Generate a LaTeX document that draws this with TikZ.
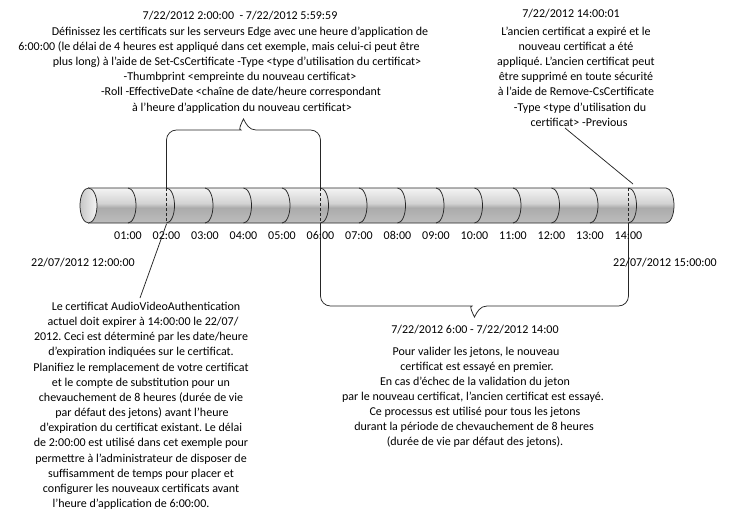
\documentclass[tikz,border=0pt]{standalone}
\usepackage{fontspec}
\setmainfont{Carlito}
\frenchspacing
\definecolor{cylT}{HTML}{F4F4F4}
\definecolor{cylM}{HTML}{D2D2D2}
\definecolor{cylB}{HTML}{ABABAB}
\definecolor{cylC}{HTML}{BDBDBD}
\pgfdeclareverticalshading{cylshade}{100bp}{color(0bp)=(cylC); color(25bp)=(cylC); color(47bp)=(cylB); color(53bp)=(cylM); color(75bp)=(cylT); color(100bp)=(cylT)}
\tikzset{
  line/.style={draw=black!85, line width=0.75pt},
  txt/.style={font=\fontsize{12}{15}\selectfont\frenchspacing, inner sep=0pt, anchor=base},
}
\begin{document}
\begin{tikzpicture}[x=1pt,y=1pt]
\useasboundingbox (0,0) rectangle (746,-509);
\fill[white] (0,0) rectangle (746,-509);

% cylinder body
\shade[shading=cylshade] (88,-188) -- (666,-188) arc[start angle=90, end angle=-90, x radius=8, y radius=17.5] -- (88,-223) -- cycle;
\draw[line] (88,-188) -- (666,-188) arc[start angle=90, end angle=-90, x radius=8, y radius=17.5] -- (88,-223);
\draw[line, left color=black!22, right color=black!4] (88.5,-205.5) ellipse[x radius=8.5, y radius=17.5];
\foreach \k in {0,...,13}
  \draw[line] ({128+38.5*\k},-188) arc[start angle=90, end angle=-90, x radius=8, y radius=17.5];

% named points
\coordinate (c2t) at (166.5,-188);
\coordinate (c2b) at (166.5,-223);
\coordinate (c6t) at (320.5,-188);
\coordinate (c6b) at (320.5,-223);
\coordinate (c14t) at (628.5,-188);
\coordinate (c14b) at (628.5,-223);
\draw[line, dash pattern=on 3pt off 2pt] (c2t) -- (c2b);
\draw[line, dash pattern=on 3pt off 2pt] (c6t) -- (c6b);
\draw[line, dash pattern=on 3pt off 2pt] (c14t) -- (c14b);

% top brace
\draw[line] (c2t) [rounded corners=10pt] -- (166.5,-130) -- (231,-130) [sharp corners]
  .. controls (238,-130) and (241,-124) .. (243.5,-119)
  .. controls (246,-124) and (249,-130) .. (256,-130) [rounded corners=10pt] -- (320.5,-130) -- (c6t);

% bottom brace
\draw[line] (c6b) [rounded corners=10pt] -- (320.5,-306) -- (462,-306) [sharp corners]
  .. controls (469,-306) and (472,-312) .. (474.5,-317)
  .. controls (477,-312) and (480,-306) .. (487,-306) [rounded corners=10pt] -- (628.5,-306) -- (c14b);

% tick labels
\foreach \h in {1,...,14}
  \node[txt] (tick\h) at ({128+38.5*(\h-1)},-239) {\ifnum\h<10 0\fi\h:00};

\node[txt] (end0) at (83,-266.5) {22/07/2012 12:00:00};
\node[txt] (end1) at (665,-266.5) {22/07/2012 15:00:00};

% top-left text
\node[txt] (tl0) at (240,-19) {7/22/2012 2:00:00\ \ - 7/22/2012 5:59:59};
\node[txt] (tl1) at (240,-35.5) {Définissez les certificats sur les serveurs Edge avec une heure d’application de};
\node[txt] (tl2) at (219,-50.6) {6:00:00 (le délai de 4 heures est appliqué dans cet exemple, mais celui-ci peut être};
\node[txt] (tl3) at (237,-65.7) {plus long) à l’aide de Set-CsCertificate -Type <type d’utilisation du certificat>};
\node[txt] (tl4) at (240,-80.8) {-Thumbprint <empreinte du nouveau certificat>};
\node[txt] (tl5) at (241,-95.9) {-Roll -EffectiveDate <chaîne de date/heure correspondant};
\node[txt] (tl6) at (242,-111) {à l’heure d’application du nouveau certificat>};

% top-right text
\node[txt] (tr0) at (571,-17) {7/22/2012 14:00:01};
\node[txt] (tr1) at (576,-35.5) {L’ancien certificat a expiré et le};
\node[txt] (tr2) at (576,-50.6) {nouveau certificat a été};
\node[txt] (tr3) at (576,-65.7) {appliqué. L’ancien certificat peut};
\node[txt] (tr4) at (576,-80.8) {être supprimé en toute sécurité};
\node[txt] (tr5) at (576,-95.9) {à l’aide de Remove-CsCertificate};
\node[txt] (tr6) at (580,-111) {-Type <type d’utilisation du};
\node[txt] (tr7) at (579,-126.1) {certificat> -Previous};

% bottom-left text
\node[txt] (bl1) at (146,-310.5) {Le certificat AudioVideoAuthentication};
\node[txt] (bl2) at (143,-325.65) {actuel doit expirer à 14:00:00 le 22/07/};
\node[txt] (bl3) at (141,-340.8) {2012. Ceci est déterminé par les date/heure};
\node[txt] (bl4) at (141,-355.95) {d’expiration indiquées sur le certificat.};
\node[txt] (bl5) at (141,-371.1) {Planifiez le remplacement de votre certificat};
\node[txt] (bl6) at (141,-386.25) {et le compte de substitution pour un};
\node[txt] (bl7) at (141,-401.4) {chevauchement de 8 heures (durée de vie};
\node[txt] (bl8) at (142,-416.55) {par défaut des jetons) avant l’heure};
\node[txt] (bl9) at (141,-431.7) {d’expiration du certificat existant. Le délai};
\node[txt] (bl10) at (141,-446.85) {de 2:00:00 est utilisé dans cet exemple pour};
\node[txt] (bl11) at (141,-462) {permettre à l’administrateur de disposer de};
\node[txt] (bl12) at (141,-477.15) {suffisamment de temps pour placer et};
\node[txt] (bl13) at (141,-492.3) {configurer les nouveaux certificats avant};
\node[txt] (bl14) at (131,-507.45) {l’heure d’application de 6:00:00.};

% bottom-right text
\node[txt] (br0) at (475,-333.5) {7/22/2012 6:00 - 7/22/2012 14:00};
\node[txt] (br1) at (476,-355.5) {Pour valider les jetons, le nouveau};
\node[txt] (br2) at (477,-370.5) {certificat est essayé en premier.};
\node[txt] (br3) at (475,-385.5) {En cas d’échec de la validation du jeton};
\node[txt] (br4) at (473,-400.5) {par le nouveau certificat, l’ancien certificat est essayé.};
\node[txt] (br5) at (475,-415.5) {Ce processus est utilisé pour tous les jetons};
\node[txt] (br6) at (474,-430.5) {durant la période de chevauchement de 8 heures};
\node[txt] (br7) at (475,-445.5) {(durée de vie par défaut des jetons).};

% pointer lines
\coordinate (p1a) at (166.5,-224);
\coordinate (p1b) at (140,-298);
\draw[line] (p1a) -- (p1b);
\coordinate (p2a) at (565,-128);
\coordinate (p2b) at (633,-184);
\draw[line] (p2a) -- (p2b);
\end{tikzpicture}
\end{document}
